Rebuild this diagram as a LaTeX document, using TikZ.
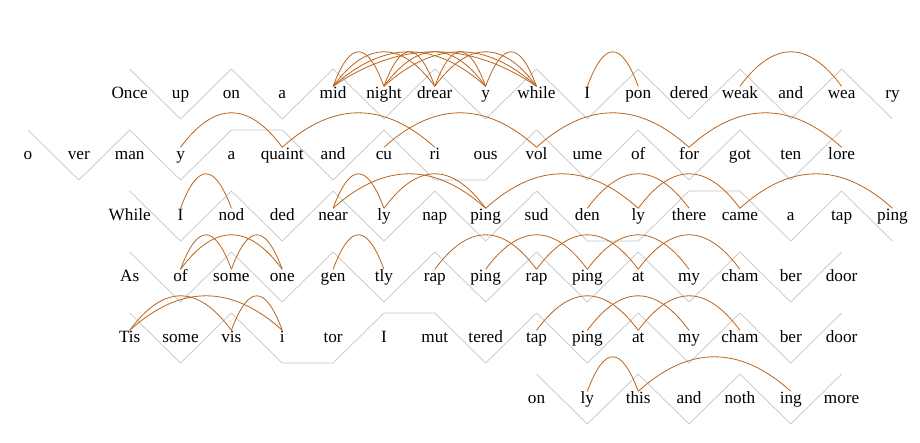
\documentclass[tikz,border=0pt]{standalone}
\usepackage{fontspec}
\setmainfont{Liberation Serif}
\usetikzlibrary{calc}
\definecolor{arco}{RGB}{186,100,26}
\definecolor{metro}{RGB}{196,196,196}
\begin{document}
\begin{tikzpicture}[x=50.85pt, y=1pt,
    sil/.style={inner sep=0pt, text height=11.5pt, text depth=3.5pt, font=\fontsize{17.2}{20}\selectfont},
    zig/.style={draw=metro, line width=0.7pt, line join=miter},
    hi/.style={yshift=25pt}, lo/.style={yshift=-25pt},
    rima/.style={draw=arco, line width=0.8pt,
      to path={.. controls ($(\tikztostart)!1/3!(\tikztotarget)+(0,46pt)$) and ($(\tikztostart)!2/3!(\tikztotarget)+(0,46pt)$) .. (\tikztotarget)}}]
    \useasboundingbox (-28pt,0pt) rectangle (892pt,-442pt);

    % Sillabe
    \foreach \w [count=\i from 2] in {Once,up,on,a,mid,night,drear,y,while,I,pon,dered,weak,and,wea,ry}
        \node[sil] (r1-\i) at (\i,-94pt) {\w};
    \foreach \w [count=\i from 0] in {o,ver,man,y,a,quaint,and,cu,ri,ous,vol,ume,of,for,got,ten,lore}
        \node[sil] (r2-\i) at (\i,-155pt) {\w};
    \foreach \w [count=\i from 2] in {While,I,nod,ded,near,ly,nap,ping,sud,den,ly,there,came,a,tap,ping}
        \node[sil] (r3-\i) at (\i,-216pt) {\w};
    \foreach \w [count=\i from 2] in {As,of,some,one,gen,tly,rap,ping,rap,ping,at,my,cham,ber,door}
        \node[sil] (r4-\i) at (\i,-277pt) {\w};
    \foreach \w [count=\i from 2] in {Tis,some,vis,i,tor,I,mut,tered,tap,ping,at,my,cham,ber,door}
        \node[sil] (r5-\i) at (\i,-338pt) {\w};
    \foreach \w [count=\i from 10] in {on,ly,this,and,noth,ing,more}
        \node[sil] (r6-\i) at (\i,-399pt) {\w};

    % Metro
    \draw[zig] ([hi]r1-2.center) -- ([lo]r1-3.center) -- ([hi]r1-4.center) -- ([lo]r1-5.center)
        -- ([hi]r1-6.center) -- ([lo]r1-7.center) -- ([hi]r1-8.center) -- ([lo]r1-9.center)
        -- ([hi]r1-10.center) -- ([lo]r1-11.center) -- ([hi]r1-12.center) -- ([lo]r1-13.center)
        -- ([hi]r1-14.center) -- ([lo]r1-15.center) -- ([hi]r1-16.center) -- ([lo]r1-17.center);
    \draw[zig] ([hi]r2-0.center) -- ([lo]r2-1.center) -- ([hi]r2-2.center) -- ([lo]r2-3.center)
        -- ([hi]r2-4.center) -- ([hi]r2-5.center) -- ([lo]r2-6.center) -- ([hi]r2-7.center)
        -- ([lo]r2-8.center) -- ([lo]r2-9.center) -- ([hi]r2-10.center) -- ([lo]r2-11.center)
        -- ([hi]r2-12.center) -- ([lo]r2-13.center) -- ([hi]r2-14.center) -- ([lo]r2-15.center)
        -- ([hi]r2-16.center);
    \draw[zig] ([hi]r3-2.center) -- ([lo]r3-3.center) -- ([hi]r3-4.center) -- ([lo]r3-5.center)
        -- ([hi]r3-6.center) -- ([lo]r3-7.center) -- ([hi]r3-8.center) -- ([lo]r3-9.center)
        -- ([hi]r3-10.center) -- ([lo]r3-11.center) -- ([lo]r3-12.center) -- ([hi]r3-13.center)
        -- ([hi]r3-14.center) -- ([lo]r3-15.center) -- ([hi]r3-16.center) -- ([lo]r3-17.center);
    \draw[zig] ([hi]r4-2.center) -- ([lo]r4-3.center) -- ([hi]r4-4.center) -- ([lo]r4-5.center)
        -- ([hi]r4-6.center) -- ([lo]r4-7.center) -- ([hi]r4-8.center) -- ([lo]r4-9.center)
        -- ([hi]r4-10.center) -- ([lo]r4-11.center) -- ([hi]r4-12.center) -- ([lo]r4-13.center)
        -- ([hi]r4-14.center) -- ([lo]r4-15.center) -- ([hi]r4-16.center);
    \draw[zig] ([hi]r5-2.center) -- ([lo]r5-3.center) -- ([hi]r5-4.center) -- ([lo]r5-5.center)
        -- ([lo]r5-6.center) -- ([hi]r5-7.center) -- ([hi]r5-8.center) -- ([lo]r5-9.center)
        -- ([hi]r5-10.center) -- ([lo]r5-11.center) -- ([hi]r5-12.center) -- ([lo]r5-13.center)
        -- ([hi]r5-14.center) -- ([lo]r5-15.center) -- ([hi]r5-16.center);
    \draw[zig] ([hi]r6-10.center) -- ([lo]r6-11.center) -- ([hi]r6-12.center) -- ([lo]r6-13.center)
        -- ([hi]r6-14.center) -- ([lo]r6-15.center) -- ([hi]r6-16.center);

    % Rime
    \foreach \a/\b in {6/7,6/8,6/9,6/10,7/8,7/9,7/10,8/9,8/10,9/10,11/12,14/16}
        \draw[rima] (r1-\a.north) to (r1-\b.north);
    \foreach \a/\b in {3/5,5/8,7/10,10/13,13/16}
        \draw[rima] (r2-\a.north) to (r2-\b.north);
    \foreach \a/\b in {3/4,6/7,6/9,7/9,9/12,11/13,12/14,14/17}
        \draw[rima] (r3-\a.north) to (r3-\b.north);
    \foreach \a/\b in {3/4,3/5,4/5,6/7,8/10,9/11,10/12,11/13,12/14}
        \draw[rima] (r4-\a.north) to (r4-\b.north);
    \foreach \a/\b in {2/4,2/5,4/5,10/12,11/13,12/14}
        \draw[rima] (r5-\a.north) to (r5-\b.north);
    \foreach \a/\b in {11/12,12/15}
        \draw[rima] (r6-\a.north) to (r6-\b.north);
\end{tikzpicture}
\end{document}
